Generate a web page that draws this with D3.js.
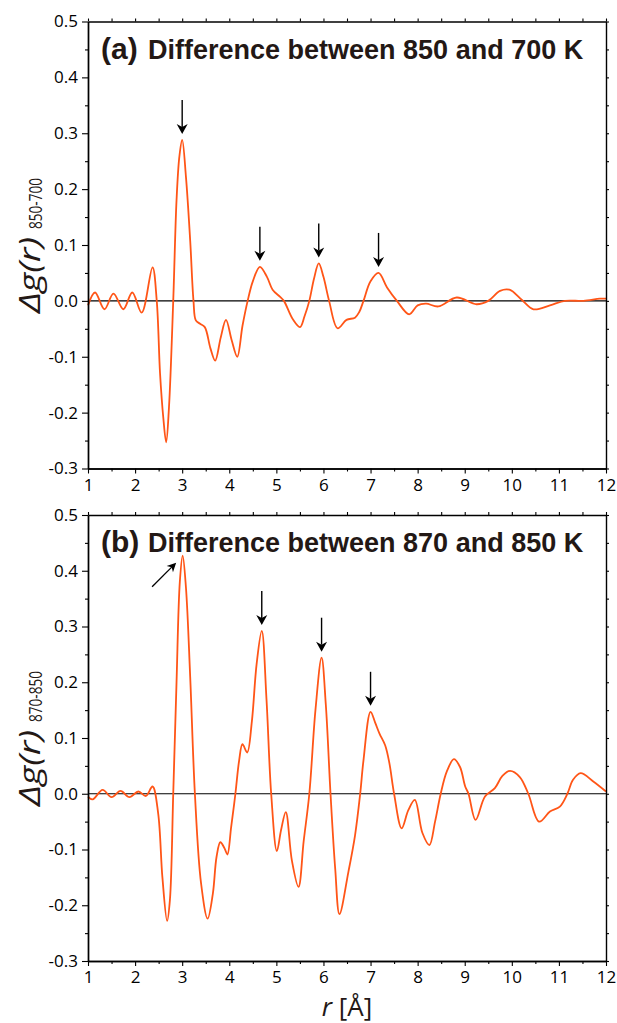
<!DOCTYPE html>
<html>
<head>
<meta charset="utf-8">
<script src="https://cdn.jsdelivr.net/npm/d3@7"></script>
<style>
  html, body { margin: 0; padding: 0; background: #fff; }
  svg { display: block; }
</style>
</head>
<body>
<svg id="chart" width="617" height="1023"></svg>
<script>
// Δg(r) difference curves, r in Å
const rA = [1.00, 1.15, 1.35, 1.54, 1.75, 1.94, 2.14, 2.37, 2.46, 2.53, 2.60, 2.66, 2.72, 2.81, 2.88, 2.94, 3.00, 3.08, 3.17, 3.24,
            3.29, 3.38, 3.48, 3.60, 3.70, 3.82, 3.93, 4.05, 4.17, 4.28, 4.39, 4.50, 4.65, 4.80, 4.92, 5.08, 5.16, 5.35, 5.50, 5.60,
            5.70, 5.80, 5.90, 6.00, 6.12, 6.30, 6.49, 6.67, 6.76, 6.85, 7.00, 7.17, 7.35, 7.56, 7.82, 8.00, 8.18, 8.44, 8.83, 9.25,
            9.50, 9.75, 9.95, 10.21, 10.46, 10.81, 11.13, 11.52, 11.87, 12.00];
const gA = [-0.008, 0.015, -0.015, 0.013, -0.015, 0.015, -0.021, 0.060, 0.000, -0.130, -0.210, -0.253, -0.190, 0.000, 0.180, 0.258, 0.288, 0.222, 0.108, 0.000,
            -0.035, -0.041, -0.047, -0.085, -0.107, -0.065, -0.034, -0.070, -0.100, -0.045, 0.000, 0.035, 0.061, 0.043, 0.020, 0.007, 0.000, -0.033, -0.047, -0.027,
            0.000, 0.040, 0.067, 0.043, 0.000, -0.049, -0.034, -0.030, -0.020, 0.000, 0.035, 0.050, 0.024, 0.000, -0.024, -0.008, -0.005, -0.010, 0.006, -0.006,
            0.000, 0.018, 0.020, 0.002, -0.015, -0.008, 0.000, 0.000, 0.004, 0.004];

const rB = [1.00, 1.10, 1.31, 1.50, 1.69, 1.88, 2.07, 2.23, 2.37, 2.49, 2.58, 2.68, 2.74, 2.81, 2.88, 2.95, 3.01, 3.08, 3.17, 3.27,
            3.40, 3.54, 3.65, 3.73, 3.81, 3.90, 3.96, 4.04, 4.13, 4.21, 4.28, 4.38, 4.48, 4.58, 4.69, 4.79, 4.89, 5.01, 5.10, 5.20,
            5.33, 5.47, 5.58, 5.70, 5.83, 5.96, 6.05, 6.15, 6.25, 6.34, 6.53, 6.67, 6.78, 6.85, 7.00, 7.10, 7.19, 7.31, 7.40, 7.50,
            7.66, 7.80, 7.94, 8.10, 8.25, 8.37, 8.49, 8.62, 8.77, 8.90, 9.01, 9.08, 9.23, 9.43, 9.64, 9.80, 9.96, 10.17, 10.35, 10.58,
            10.81, 11.02, 11.18, 11.30, 11.46, 11.73, 12.00];
const gB = [-0.005, -0.010, 0.007, -0.006, 0.005, -0.006, 0.004, -0.004, 0.013, -0.035, -0.150, -0.228, -0.190, 0.000, 0.200, 0.380, 0.427, 0.370, 0.210, 0.000,
            -0.160, -0.224, -0.180, -0.113, -0.087, -0.098, -0.109, -0.060, 0.000, 0.060, 0.089, 0.074, 0.130, 0.232, 0.292, 0.170, 0.000, -0.103, -0.065, -0.033,
            -0.120, -0.167, -0.085, 0.000, 0.150, 0.244, 0.160, 0.000, -0.135, -0.216, -0.140, -0.075, 0.000, 0.060, 0.147, 0.127, 0.108, 0.087, 0.055, 0.000,
            -0.062, -0.030, -0.011, -0.070, -0.092, -0.050, 0.000, 0.040, 0.062, 0.048, 0.013, 0.000, -0.047, -0.005, 0.010, 0.032, 0.041, 0.030, 0.000, -0.050,
            -0.032, -0.023, 0.000, 0.025, 0.037, 0.022, 0.004];

// peaks marked with arrows (r, Δg, direction in degrees: 90 = straight down)
const arrowsA = [{ r: 3.00, g: 0.288, dir: 90 }, { r: 4.65, g: 0.061, dir: 90 }, { r: 5.90, g: 0.067, dir: 90 }, { r: 7.17, g: 0.050, dir: 90 }];
const arrowsB = [{ r: 3.01, g: 0.427, dir: -45 }, { r: 4.69, g: 0.292, dir: 90 }, { r: 5.96, g: 0.244, dir: 90 }, { r: 7.00, g: 0.147, dir: 90 }];

const xTicks = [1, 2, 3, 4, 5, 6, 7, 8, 9, 10, 11, 12];
const xTickLabels = ["1", "2", "3", "4", "5", "6", "7", "8", "9", "10", "11", "12"];
const xMinor = [1.5, 2.5, 3.5, 4.5, 5.5, 6.5, 7.5, 8.5, 9.5, 10.5, 11.5];
const yTicks = [-0.3, -0.2, -0.1, 0.0, 0.1, 0.2, 0.3, 0.4, 0.5];
const yTickLabels = ["-0.3", "-0.2", "-0.1", "0.0", "0.1", "0.2", "0.3", "0.4", "0.5"];
const yMinor = [-0.25, -0.15, -0.05, 0.05, 0.15, 0.25, 0.35, 0.45];

const panelTags = ["(a)", "(b)"];
const panelTitles = ["Difference between 850 and 700 K", "Difference between 870 and 850 K"];
const panelSubs = ["850-700", "870-850"];

const svg = d3.select("#chart");
const INK = "#231815";
const CURVE = "#ff5517";
const left = 88, right = 606;
const tickFont = "'Open Sans', 'Noto Sans', sans-serif";

function arrow(g, tipX, tipY, dirDeg, len, head, half, width) {
  const a = dirDeg * Math.PI / 180;
  const ux = Math.cos(a), uy = Math.sin(a);
  const px = -uy, py = ux;
  const tailX = tipX - ux * len, tailY = tipY - uy * len;
  const baseX = tipX - ux * head, baseY = tipY - uy * head;
  const notchX = tipX - ux * head * 0.7, notchY = tipY - uy * head * 0.7;
  g.append("line")
    .attr("x1", tailX).attr("y1", tailY)
    .attr("x2", notchX).attr("y2", notchY)
    .attr("stroke", "#000").attr("stroke-width", width);
  g.append("path")
    .attr("d", `M${tipX},${tipY}L${baseX + px * half},${baseY + py * half}L${notchX},${notchY}L${baseX - px * half},${baseY - py * half}Z`)
    .attr("fill", "#000");
}

const styleAxis = sel => {
  sel.attr("font-size", 17).attr("font-family", tickFont);
  sel.selectAll("path.domain").attr("stroke", "#000").attr("stroke-width", 1.4);
  sel.selectAll(".tick line").attr("stroke", "#000").attr("stroke-width", 1.1);
  sel.selectAll(".tick text").attr("fill", "#000")
    .attr("font-size", 17)
    .style("font-family", tickFont).style("font-size", "17px");
};

function drawPanel(idx, top, bottom, rs, gs, arrows) {
  const x = d3.scaleLinear().domain([1, 12]).range([left, right]);
  const y = d3.scaleLinear().domain([-0.3, 0.5]).range([bottom, top]);
  const g = svg.append("g");

  // zero reference line
  g.append("line")
    .attr("x1", x(1)).attr("x2", x(12))
    .attr("y1", y(0)).attr("y2", y(0))
    .attr("stroke", "#000").attr("stroke-width", 1.1);

  // curve
  const pts = rs.map((r, i) => [r, gs[i]]);
  const line = d3.line()
    .x(d => x(d[0])).y(d => y(d[1]))
    .curve(d3.curveCatmullRom.alpha(0.5));
  g.append("path")
    .datum(pts)
    .attr("d", line)
    .attr("fill", "none")
    .attr("stroke", CURVE)
    .attr("stroke-width", 1.8)
    .attr("stroke-linejoin", "round");

  // axes: labelled major ticks bottom/left, minor ticks, mirrored ticks top/right
  g.append("g").attr("transform", `translate(0,${bottom})`)
    .call(d3.axisBottom(x).tickValues(xTicks).tickSize(5).tickSizeOuter(0).tickPadding(5)
      .tickFormat((d, i) => xTickLabels[i]))
    .call(styleAxis);
  g.append("g").attr("transform", `translate(0,${bottom})`)
    .call(d3.axisBottom(x).tickValues(xMinor).tickSize(3).tickSizeOuter(0).tickFormat(""))
    .call(styleAxis);

  g.append("g").attr("transform", `translate(${left},0)`)
    .call(d3.axisLeft(y).tickValues(yTicks).tickSize(6).tickSizeOuter(0).tickPadding(4)
      .tickFormat((d, i) => yTickLabels[i]))
    .call(styleAxis);
  g.append("g").attr("transform", `translate(${left},0)`)
    .call(d3.axisLeft(y).tickValues(yMinor).tickSize(3).tickSizeOuter(0).tickFormat(""))
    .call(styleAxis);

  g.append("g").attr("transform", `translate(0,${top})`)
    .call(d3.axisTop(x).tickValues(xTicks.concat(xMinor)).tickSize(3).tickSizeOuter(0).tickFormat(""))
    .call(styleAxis);
  g.append("g").attr("transform", `translate(${right},0)`)
    .call(d3.axisRight(y).tickValues(yTicks.concat(yMinor)).tickSize(3).tickSizeOuter(0).tickFormat(""))
    .call(styleAxis);

  // arrows above marked peaks
  arrows.forEach(a => {
    const px = x(a.r), py = y(a.g);
    if (a.dir === 90) {
      arrow(g, px, py - 6, 90, 34, 10, 5.5, 1.4);
    } else {
      arrow(g, px - 6.5, py + 7, a.dir, 34, 9, 4.5, 1.3);
    }
  });

  // panel title
  const t = g.append("text")
    .attr("y", top + 37)
    .attr("fill", INK)
    .style("font-family", "'Liberation Sans', Arial, sans-serif")
    .style("font-weight", "bold");
  t.append("tspan").attr("x", 101).style("font-size", "30px").text(panelTags[idx]);
  t.append("tspan").attr("x", 148).style("font-size", "27px").text(panelTitles[idx]);

  // y-axis label, rotated
  const mid = (top + bottom) / 2;
  const yl = g.append("g").attr("transform", `translate(40,${mid}) rotate(-90)`);
  yl.append("text")
    .attr("x", -68).attr("y", 0)
    .attr("fill", INK)
    .attr("textLength", 76).attr("lengthAdjust", "spacingAndGlyphs")
    .style("font-family", tickFont).style("font-style", "italic").style("font-size", "30px")
    .text("Δg(r)");
  yl.append("text")
    .attr("x", 16).attr("y", 2)
    .attr("fill", INK)
    .attr("textLength", 51).attr("lengthAdjust", "spacingAndGlyphs")
    .style("font-family", tickFont).style("font-size", "18px")
    .text(panelSubs[idx]);

  return { x, y };
}

drawPanel(0, 21.5, 468.5, rA, gA, arrowsA);
drawPanel(1, 515, 961, rB, gB, arrowsB);

// shared x-axis label
const xl = svg.append("text")
  .attr("x", 347).attr("y", 1016)
  .attr("text-anchor", "middle")
  .attr("fill", INK)
  .style("font-family", tickFont).style("font-size", "26px");
xl.append("tspan").style("font-style", "italic").text("r");
xl.append("tspan").text(" [Å]");
</script>
</body>
</html>
